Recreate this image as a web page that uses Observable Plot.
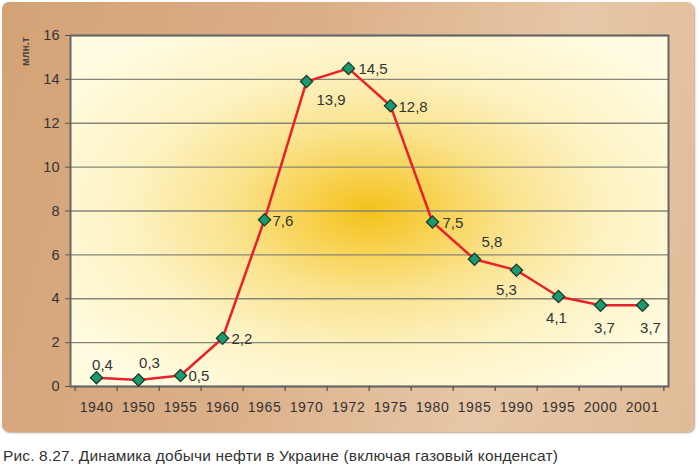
<!DOCTYPE html>
<html><head><meta charset="utf-8">
<script src="https://cdn.jsdelivr.net/npm/d3@7"></script>
<script src="https://cdn.jsdelivr.net/npm/@observablehq/plot@0.6"></script>
<style>
body{margin:0;background:#fff;font-family:"Liberation Sans",Arial,sans-serif;}
#wrap{position:relative;width:700px;height:474px;overflow:hidden;}
#panel{position:absolute;left:2px;top:2px;width:692px;height:430px;border-radius:7px;
 background:linear-gradient(105deg,#d4a276 0%,#dbaf88 40%,#e7c7a7 72%,#e0bb97 100%);
 box-shadow:1px 1px 2px rgba(90,60,30,0.45);}
#chart{position:absolute;left:0;top:0;}
#caption{position:absolute;left:3px;top:447px;font-size:15.5px;letter-spacing:0.15px;color:#333;white-space:nowrap;}
</style></head>
<body>
<div id="wrap"><div id="panel"></div><div id="chart"></div>
<div id="caption">Рис. 8.27. Динамика добычи нефти в Украине (включая газовый конденсат)</div></div>
<script>
// Data
const years = ["1940","1950","1955","1960","1965","1970","1972","1975","1980","1985","1990","1995","2000","2001"];
const production = [0.4,0.3,0.5,2.2,7.6,13.9,14.5,12.8,7.5,5.8,5.3,4.1,3.7,3.7];
const valueLabels = ["0,4","0,3","0,5","2,2","7,6","13,9","14,5","12,8","7,5","5,8","5,3","4,1","3,7","3,7"];
const yTicks = [0,2,4,6,8,10,12,14,16];
const unitLabel = "млн.т";

const data = years.map((y,i)=>({year:y, value:production[i], label:valueLabels[i]}));

// label placement (offsets in px, anchor)
const place = {
 "1940":[6,-13,"middle"],"1950":[11,-17,"middle"],"1955":[8,1,"start"],"1960":[9,1,"start"],
 "1965":[8,1,"start"],"1970":[10,19,"start"],"1972":[10,1,"start"],"1975":[8,1,"start"],
 "1980":[10,1,"start"],"1985":[7,-17,"start"],"1990":[-10,20,"middle"],"1995":[-2,22,"middle"],
 "2000":[4,23,"middle"],"2001":[8,23,"middle"]
};
const W=700,H=440,ml=70,mr=32,mt=35,mb=54;
const step=(W-ml-mr)/years.length;

const labelMarks = ["start","middle"].flatMap(anchor=>{
  const groups = d3.groups(data.filter(d=>place[d.year][2]===anchor), d=>place[d.year][0]+","+place[d.year][1]);
  return groups.map(([k,arr])=>{
    const [dx,dy]=k.split(",").map(Number);
    return Plot.text(arr,{x:"year",y:"value",text:"label",dx,dy,textAnchor:anchor,fontSize:15,fill:"#333",ariaLabel:"value-label"});
  });
});

const plot = Plot.plot({
  width:W,height:H,marginLeft:ml,marginRight:mr,marginTop:mt,marginBottom:mb,
  style:{background:"transparent",fontFamily:"'Liberation Sans',Arial,sans-serif",color:"#333"},
  x:{type:"point",domain:years,padding:0.5,label:null},
  y:{domain:[0,16],label:null},
  marks:[
    Plot.frame({fill:"url(#rg)",stroke:null}),
    Plot.gridY(yTicks,{stroke:"#85857a",strokeOpacity:1,strokeWidth:1.4}),
    Plot.frame({stroke:"#666",strokeWidth:2}),
    Plot.axisY(yTicks,{tickSize:5,tickPadding:6,fontSize:14.5,stroke:"#555",fill:"#333",label:null}),
    Plot.axisX({tickSize:0,tickPadding:16,fontSize:14,fill:"#333",label:null}),
    Plot.axisX(years,{text:null,tickSize:5,dx:-step/2,stroke:"#555",strokeWidth:1.3,label:null}),
    Plot.axisX(["2001"],{text:null,tickSize:5,dx:step/2,stroke:"#555",strokeWidth:1.3,label:null}),
    Plot.text([unitLabel],{frameAnchor:"top-left",dx:-45,dy:16,rotate:-90,textAnchor:"middle",lineAnchor:"middle",fontSize:10.5,fontWeight:"bold",fill:"#444"}),
    Plot.line(data,{x:"year",y:"value",stroke:"#e8222a",strokeWidth:2.5}),
    Plot.dot(data,{x:"year",y:"value",symbol:"diamond2",r:5.5,fill:"#1b9a70",stroke:"#1e3a2a",strokeWidth:1.3}),
    ...labelMarks
  ]
});
const ns="http://www.w3.org/2000/svg";
const defs=document.createElementNS(ns,"defs");
defs.innerHTML=`<radialGradient id="rg" cx="0.5" cy="0.5" r="0.62">
<stop offset="0" stop-color="#f4c11a"/>
<stop offset="0.15" stop-color="#f7cf48"/>
<stop offset="0.38" stop-color="#fae38e"/>
<stop offset="0.65" stop-color="#fdf2c2"/>
<stop offset="1" stop-color="#fffce2"/>
</radialGradient>`;
plot.insertBefore(defs,plot.firstChild);
plot.querySelectorAll('g[aria-label="value-label"] text').forEach(t=>t.setAttribute("letter-spacing","0.8"));
plot.querySelectorAll('g[aria-label="x-axis tick label"] text').forEach(t=>t.setAttribute("letter-spacing","0.6"));
document.getElementById("chart").appendChild(plot);
</script>
</body></html>
